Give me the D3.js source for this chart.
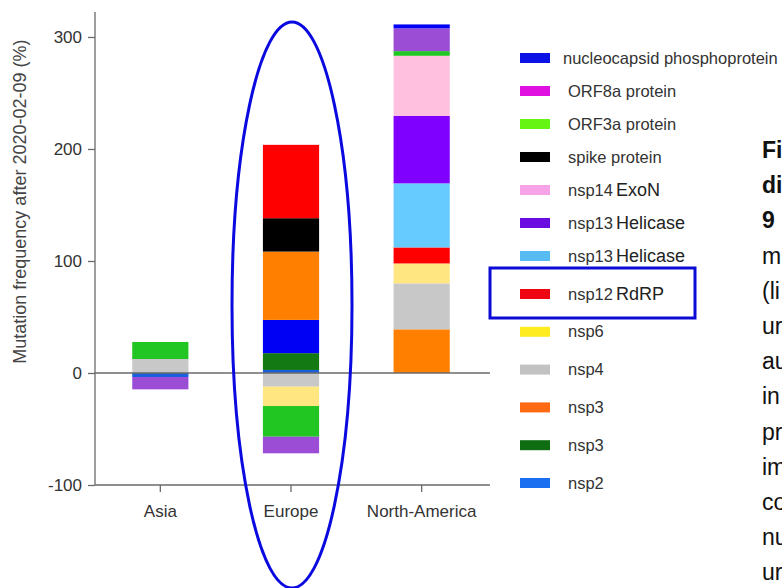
<!DOCTYPE html>
<html><head><meta charset="utf-8">
<script src="https://cdn.jsdelivr.net/npm/d3@7"></script>
<style>
html,body{margin:0;padding:0;background:#fff;overflow:hidden}
svg{display:block;font-family:"Liberation Sans",Arial,sans-serif}
</style></head>
<body>
<svg id="chart" width="782" height="588"></svg>
<script>
// ---------- data ----------
const regions = ["Asia", "Europe", "North-America"];
const yTicks = [-100, 0, 100, 200, 300];

// series keys (legend order, top to bottom)
const seriesKeys = ["nucleocapsid", "ORF8a", "ORF3a", "spike", "nsp14", "nsp13a", "nsp13b", "nsp12", "nsp6", "nsp4", "nsp3a", "nsp3b", "nsp2"];
const legendMain = ["nucleocapsid phosphoprotein", "ORF8a protein", "ORF3a protein", "spike protein", "nsp14", "nsp13", "nsp13", "nsp12", "nsp6", "nsp4", "nsp3", "nsp3", "nsp2"];
const legendSuffix = ["", "", "", "", "ExoN", "Helicase", "Helicase", "RdRP", "", "", "", "", ""];
const legendColors = ["#0a12e6", "#e011e0", "#66f512", "#000000", "#f5a2e6", "#6a0be0", "#56bcf2", "#ee0612", "#ffec1e", "#c2c2c2", "#ff6a12", "#0f6e12", "#1a6ef0"];
const barColors = ["#0000f5", "#9b4dd6", "#22c622", "#000000", "#ffc0e0", "#8000ff", "#66ccff", "#ff0000", "#ffe680", "#c8c8c8", "#ff8000", "#137a13", "#1a5fdc"];

// stacked segments, in stacking order from the zero line outward
const asiaUpKeys = ["nsp4", "ORF3a"];
const asiaUpValues = [12.5, 15.2];
const asiaDownKeys = ["nsp2", "ORF8a"];
const asiaDownValues = [-3.6, -11];

const europeUpKeys = ["nsp2", "nsp3b", "nucleocapsid", "nsp3a", "spike", "nsp12"];
const europeUpValues = [2.7, 15, 29.7, 61, 29.8, 65.5];
const europeDownKeys = ["nsp4", "nsp6", "ORF3a", "ORF8a"];
const europeDownValues = [-12.2, -17.3, -27.4, -14.8];

const naUpKeys = ["nsp3a", "nsp4", "nsp6", "nsp12", "nsp13b", "nsp13a", "nsp14", "ORF3a", "ORF8a", "nucleocapsid"];
const naUpValues = [39, 41, 17.8, 14.3, 57.2, 60.3, 53.6, 4.2, 20.3, 3.5];
const naDownKeys = [];
const naDownValues = [];

const yTitle = "Mutation frequency after 2020-02-09 (%)";
const sideBold = ["Fi", "di", "9"];
const sideText = ["m", "(li", "ur", "au", "in", "pr", "im", "co", "nu", "ur"];

// ---------- build ----------
const svg = d3.select("#chart");
const color = d3.scaleOrdinal().domain(seriesKeys).range(barColors);
const lColor = d3.scaleOrdinal().domain(seriesKeys).range(legendColors);

const x = d3.scaleBand().domain(regions).range([95, 487]).paddingInner(0.57).paddingOuter(0.285);
const y = d3.scaleLinear().domain([-100, 322.3]).range([485, 12]);

function stackSegs(region, keys, vals) {
  let acc = 0;
  return keys.map((k, i) => {
    const y0 = acc; acc += vals[i];
    return {region, key: k, y0, y1: acc};
  });
}
const segments = [].concat(
  stackSegs("Asia", asiaUpKeys, asiaUpValues),
  stackSegs("Asia", asiaDownKeys, asiaDownValues),
  stackSegs("Europe", europeUpKeys, europeUpValues),
  stackSegs("Europe", europeDownKeys, europeDownValues),
  stackSegs("North-America", naUpKeys, naUpValues),
  stackSegs("North-America", naDownKeys, naDownValues)
);

svg.append("g").selectAll("rect").data(segments).join("rect")
  .attr("x", d => x(d.region))
  .attr("width", x.bandwidth())
  .attr("y", d => y(Math.max(d.y0, d.y1)))
  .attr("height", d => Math.abs(y(d.y0) - y(d.y1)))
  .attr("fill", d => color(d.key));

const axisColor = "#6a6a6a";
// zero line
svg.append("line").attr("x1", 95).attr("x2", 490).attr("y1", y(0)).attr("y2", y(0))
  .attr("stroke", axisColor).attr("stroke-width", 1.3);

// y axis
const gy = svg.append("g").attr("transform", "translate(95,0)")
  .call(d3.axisLeft(y).tickValues(yTicks).tickSize(7).tickPadding(6).tickFormat(d => String(d)));
gy.select(".domain").remove();
gy.append("line").attr("x1", 0).attr("x2", 0).attr("y1", y.range()[1]).attr("y2", y(-100)).attr("stroke", axisColor).attr("stroke-width", 1.3);
gy.selectAll(".tick line").attr("stroke", axisColor).attr("stroke-width", 1.3);
gy.selectAll(".tick text").attr("fill", "#333").attr("font-size", 17).attr("font-family", "Liberation Sans, Arial, sans-serif");

// x axis
const gx = svg.append("g").attr("transform", `translate(0,${y(-100)})`)
  .call(d3.axisBottom(x).tickSize(7).tickPadding(13).tickSizeOuter(0));
gx.select(".domain").remove();
gx.append("line").attr("x1", 95).attr("x2", 490).attr("y1", 0).attr("y2", 0).attr("stroke", axisColor).attr("stroke-width", 1.3);
gx.selectAll(".tick line").attr("stroke", axisColor).attr("stroke-width", 1.3);
gx.selectAll(".tick text").attr("fill", "#333").attr("font-size", 17).attr("font-family", "Liberation Sans, Arial, sans-serif");

// y title
svg.append("text")
  .attr("transform", `translate(26,${y(153)}) rotate(-90)`)
  .attr("text-anchor", "middle")
  .attr("font-size", 18).attr("fill", "#444")
  .text(yTitle);

// legend
const ly = d3.scaleLinear().domain([0, 6, 7, 12]).range([58, 256, 294, 483]);
const lg = svg.append("g");
seriesKeys.forEach((k, i) => {
  const g = lg.append("g").attr("transform", `translate(0,${ly(i)})`);
  g.append("rect").attr("x", 520).attr("y", -5).attr("width", 30).attr("height", 10).attr("fill", lColor(k));
  const t = g.append("text").attr("x", i === 0 ? 563 : 568).attr("y", 5.5)
    .attr("font-size", 16.5).attr("fill", "#333");
  t.append("tspan").text(legendMain[i]);
  if (legendSuffix[i]) t.append("tspan").attr("dx", 3).attr("font-size", 18).attr("fill", "#222").text(legendSuffix[i]);
});

// highlight box around nsp12 legend entry
svg.append("rect").attr("x", 490).attr("y", ly(7) - 26).attr("width", 205).attr("height", 50)
  .attr("fill", "none").attr("stroke", "#0b0bd6").attr("stroke-width", 3);

// ellipse around Europe
svg.append("ellipse").attr("cx", x("Europe") + x.bandwidth() / 2 + 1).attr("cy", 305)
  .attr("rx", 60).attr("ry", 283)
  .attr("fill", "none").attr("stroke", "#0a0ae0").attr("stroke-width", 3);

// cut-off side text
const side = svg.append("g").attr("font-size", 23).attr("fill", "#111");
sideBold.concat(sideText).forEach((s, i) => {
  side.append("text").attr("x", 762).attr("y", 158 + i * 35.2)
    .attr("font-weight", i < sideBold.length ? "bold" : "normal").text(s);
});
</script>
</body></html>
